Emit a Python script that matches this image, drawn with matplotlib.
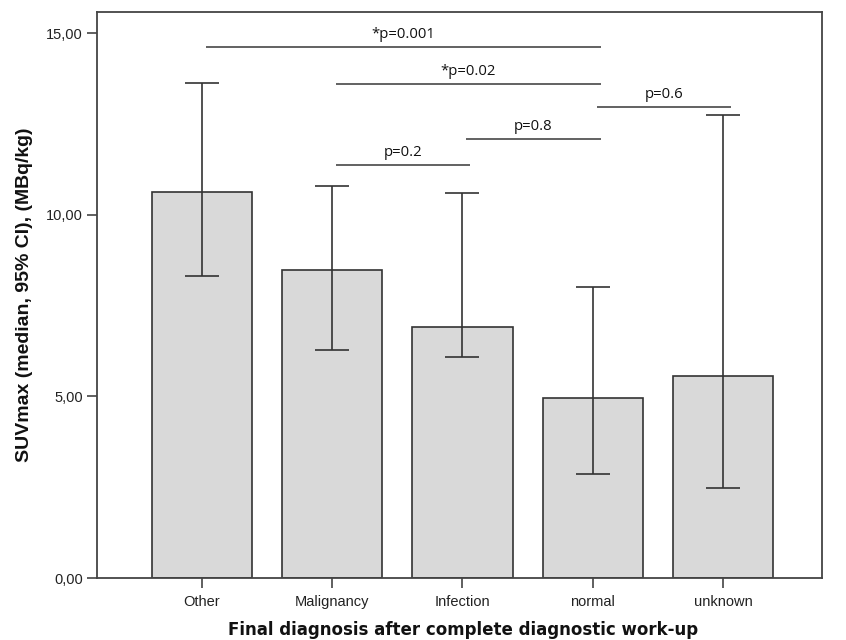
import matplotlib
matplotlib.use("Agg")
import matplotlib.pyplot as plt
import numpy as np

categories = ["Other", "Malignancy", "Infection", "normal", "unknown"]
medians = [10.63, 8.48, 6.90, 4.95, 5.57]
ci_low = [8.32, 6.28, 6.09, 2.87, 2.47]
ci_high = [13.64, 10.81, 10.61, 8.02, 12.74]
yticks = [0, 5, 10, 15]
ytick_labels = ["0,00", "5,00", "10,00", "15,00"]

# comparisons: (start index, end index, height, label)
comp_start = [0, 1, 3, 2, 1]
comp_end = [3, 3, 4, 3, 2]
comp_height = [14.63, 13.61, 12.97, 12.10, 11.38]
comp_label = ["*p=0.001", "*p=0.02", "p=0.6", "p=0.8", "p=0.2"]

fig = plt.figure(figsize=(8.46, 6.40), dpi=100)
ax = fig.add_axes([97/846, 1-578/640, (822-97)/846, (578-12)/640])

x = np.arange(len(categories))
lo = np.array(medians) - np.array(ci_low)
hi = np.array(ci_high) - np.array(medians)
ax.bar(x, medians, width=0.77, color="#d9d9d9", edgecolor="#333333", linewidth=1.2, zorder=2)
ax.errorbar(x, medians, yerr=[lo, hi], fmt="none", ecolor="#333333", elinewidth=1.2,
            capsize=12, capthick=1.2, zorder=3)

for s, e, h, lab in zip(comp_start, comp_end, comp_height, comp_label):
    x0 = s + 0.03
    x1 = e + 0.06
    ax.plot([x0, x1], [h, h], color="#555555", lw=1.3, zorder=3, solid_capstyle="butt")
    ax.text((x0 + x1) / 2, h + 0.14, lab, ha="center", va="bottom", fontsize=10.7,
            family="Open Sans", color="#111111")

ax.set_xlim(-0.806, 4.76)
ax.set_ylim(0, 15.59)
ax.set_yticks(yticks)
ax.set_yticklabels(ytick_labels, fontsize=10.5, family="Liberation Sans", color="#222222")
ax.set_xticks(x)
ax.set_xticklabels(categories, fontsize=10.5, family="Liberation Sans", color="#222222")
ax.tick_params(axis="both", direction="out", length=7, width=1.2, color="#444444")
ax.tick_params(axis="y", pad=3)
ax.tick_params(axis="x", pad=5)
for sp in ax.spines.values():
    sp.set_color("#444444")
    sp.set_linewidth(1.3)

fig.text(25/846, 1-295/640, "SUVmax (median, 95% CI), (MBq/kg)", rotation=90,
         ha="center", va="center", fontsize=14, fontweight="bold", family="Liberation Sans",
         color="#111111")
fig.text(463/846, 1-630/640, "Final diagnosis after complete diagnostic work-up",
         ha="center", va="center", fontsize=12, fontweight="bold", family="DejaVu Sans",
         color="#111111")

fig.savefig("out.png", dpi=100)
